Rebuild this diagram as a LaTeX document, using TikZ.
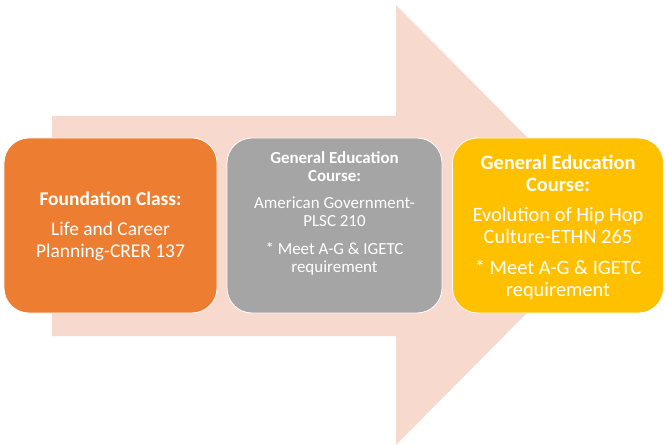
\documentclass[tikz,border=0pt]{standalone}
\usepackage{fontspec}
\setmainfont{Carlito}
\definecolor{arrowpink}{HTML}{F8D9CE}
\definecolor{boxorange}{HTML}{ED7D31}
\definecolor{boxgray}{HTML}{A5A5A5}
\definecolor{boxgold}{HTML}{FFC000}
\begin{document}
\begin{tikzpicture}[x=1bp,y=-1bp]
	\tikzstyle{course}=[rounded corners=25bp, draw=white, line width=0.8bp, minimum height=175bp, inner sep=0pt]
	\tikzstyle{coursetext}=[text=white, align=center, inner sep=0pt]
	\useasboundingbox (0,0) rectangle (665,445);
	% big arrow behind the boxes
	\fill [arrowpink] (52,116) -- (396,116) -- (396,5) -- (614,225) -- (396,445) -- (396,336) -- (52,336) -- cycle;
	\node [course, fill=boxorange, minimum width=213bp] (found) at (110.5,225.5) {};
	\node [course, fill=boxgray, minimum width=215bp] (gened1) at (334.5,225.5) {};
	\node [course, fill=boxgold, minimum width=211bp] (gened2) at (558,225.5) {};
	\node [coursetext, font=\fontsize{19.5}{22}\selectfont] (found-txt) at ([yshift=-1bp]found.center)
		{\textbf{Foundation Class:}\\[8bp] Life and Career\\ Planning-CRER 137};
	\node [coursetext, font=\fontsize{17}{18.5}\selectfont] (gened1-txt) at ([yshift=12bp]gened1.center)
		{\textbf{General Education}\\ \textbf{Course:}\\[8bp] American Government-\\ PLSC 210\\[9bp] * Meet A-G \& IGETC\\ requirement};
	\node [coursetext, font=\fontsize{20.5}{21.5}\selectfont] (gened2-txt) at ([yshift=-2bp]gened2.center)
		{\textbf{General Education}\\ \textbf{Course:}\\[9bp] Evolution of Hip Hop\\ Culture-ETHN 265\\[10bp] * Meet A-G \& IGETC\\ requirement};
\end{tikzpicture}
\end{document}
